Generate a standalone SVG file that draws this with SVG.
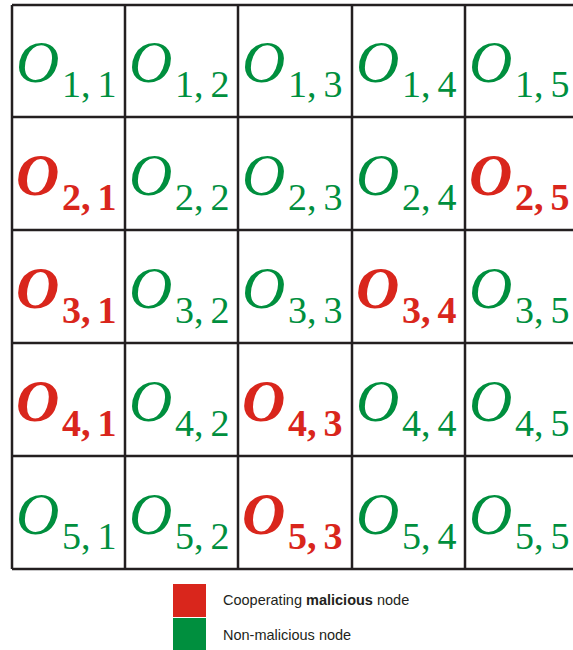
<svg xmlns="http://www.w3.org/2000/svg" width="573" height="650" viewBox="0 0 573 650">
<style>
.g{fill:#008f3e}.r{fill:#d9261c}
.o{font-family:"Liberation Serif",serif;font-style:italic;font-size:60px}
.s{font-family:"Liberation Serif",serif;font-size:38px}
.b{font-weight:bold}
.grid{stroke:#231f20;stroke-width:2.5;fill:none}
.lg{font-family:"Liberation Sans",Arial,sans-serif;font-size:14.5px;fill:#231f20}
</style>
<rect width="573" height="650" fill="#fff"/>
<g id="connectors" class="grid">
<path d="M12,5H580M12,117H580M12,230H580M12,343H580M12,456H580M12,569H580"/>
<path d="M12,5V569M125,5V569M238,5V569M352,5V569M465,5V569"/>
</g>
<g id="n11" class="g"><text class="o" x="16" y="82">O</text><text class="s" x="62" y="97">1,<tspan dx="7">1</tspan></text></g>
<g id="n12" class="g"><text class="o" x="129" y="82">O</text><text class="s" x="175" y="97">1,<tspan dx="7">2</tspan></text></g>
<g id="n13" class="g"><text class="o" x="242" y="82">O</text><text class="s" x="288" y="97">1,<tspan dx="7">3</tspan></text></g>
<g id="n14" class="g"><text class="o" x="356" y="82">O</text><text class="s" x="402" y="97">1,<tspan dx="7">4</tspan></text></g>
<g id="n15" class="g"><text class="o" x="469" y="82">O</text><text class="s" x="515" y="97">1,<tspan dx="7">5</tspan></text></g>
<g id="n21" class="r"><text class="o b" x="16" y="195">O</text><text class="s b" x="62" y="210">2,<tspan dx="7">1</tspan></text></g>
<g id="n22" class="g"><text class="o" x="129" y="195">O</text><text class="s" x="175" y="210">2,<tspan dx="7">2</tspan></text></g>
<g id="n23" class="g"><text class="o" x="242" y="195">O</text><text class="s" x="288" y="210">2,<tspan dx="7">3</tspan></text></g>
<g id="n24" class="g"><text class="o" x="356" y="195">O</text><text class="s" x="402" y="210">2,<tspan dx="7">4</tspan></text></g>
<g id="n25" class="r"><text class="o b" x="469" y="195">O</text><text class="s b" x="515" y="210">2,<tspan dx="7">5</tspan></text></g>
<g id="n31" class="r"><text class="o b" x="16" y="308">O</text><text class="s b" x="62" y="323">3,<tspan dx="7">1</tspan></text></g>
<g id="n32" class="g"><text class="o" x="129" y="308">O</text><text class="s" x="175" y="323">3,<tspan dx="7">2</tspan></text></g>
<g id="n33" class="g"><text class="o" x="242" y="308">O</text><text class="s" x="288" y="323">3,<tspan dx="7">3</tspan></text></g>
<g id="n34" class="r"><text class="o b" x="356" y="308">O</text><text class="s b" x="402" y="323">3,<tspan dx="7">4</tspan></text></g>
<g id="n35" class="g"><text class="o" x="469" y="308">O</text><text class="s" x="515" y="323">3,<tspan dx="7">5</tspan></text></g>
<g id="n41" class="r"><text class="o b" x="16" y="421">O</text><text class="s b" x="62" y="436">4,<tspan dx="7">1</tspan></text></g>
<g id="n42" class="g"><text class="o" x="129" y="421">O</text><text class="s" x="175" y="436">4,<tspan dx="7">2</tspan></text></g>
<g id="n43" class="r"><text class="o b" x="242" y="421">O</text><text class="s b" x="288" y="436">4,<tspan dx="7">3</tspan></text></g>
<g id="n44" class="g"><text class="o" x="356" y="421">O</text><text class="s" x="402" y="436">4,<tspan dx="7">4</tspan></text></g>
<g id="n45" class="g"><text class="o" x="469" y="421">O</text><text class="s" x="515" y="436">4,<tspan dx="7">5</tspan></text></g>
<g id="n51" class="g"><text class="o" x="16" y="534">O</text><text class="s" x="62" y="549">5,<tspan dx="7">1</tspan></text></g>
<g id="n52" class="g"><text class="o" x="129" y="534">O</text><text class="s" x="175" y="549">5,<tspan dx="7">2</tspan></text></g>
<g id="n53" class="r"><text class="o b" x="242" y="534">O</text><text class="s b" x="288" y="549">5,<tspan dx="7">3</tspan></text></g>
<g id="n54" class="g"><text class="o" x="356" y="534">O</text><text class="s" x="402" y="549">5,<tspan dx="7">4</tspan></text></g>
<g id="n55" class="g"><text class="o" x="469" y="534">O</text><text class="s" x="515" y="549">5,<tspan dx="7">5</tspan></text></g>
<g id="legend">
<rect x="173" y="584" width="33" height="33" fill="#d9261c"/>
<rect x="173" y="618" width="33" height="33" fill="#008f3e"/>
<text class="lg" x="223" y="605">Cooperating <tspan font-weight="bold">malicious</tspan> node</text>
<text class="lg" x="223" y="640">Non-malicious node</text>
</g>
</svg>
